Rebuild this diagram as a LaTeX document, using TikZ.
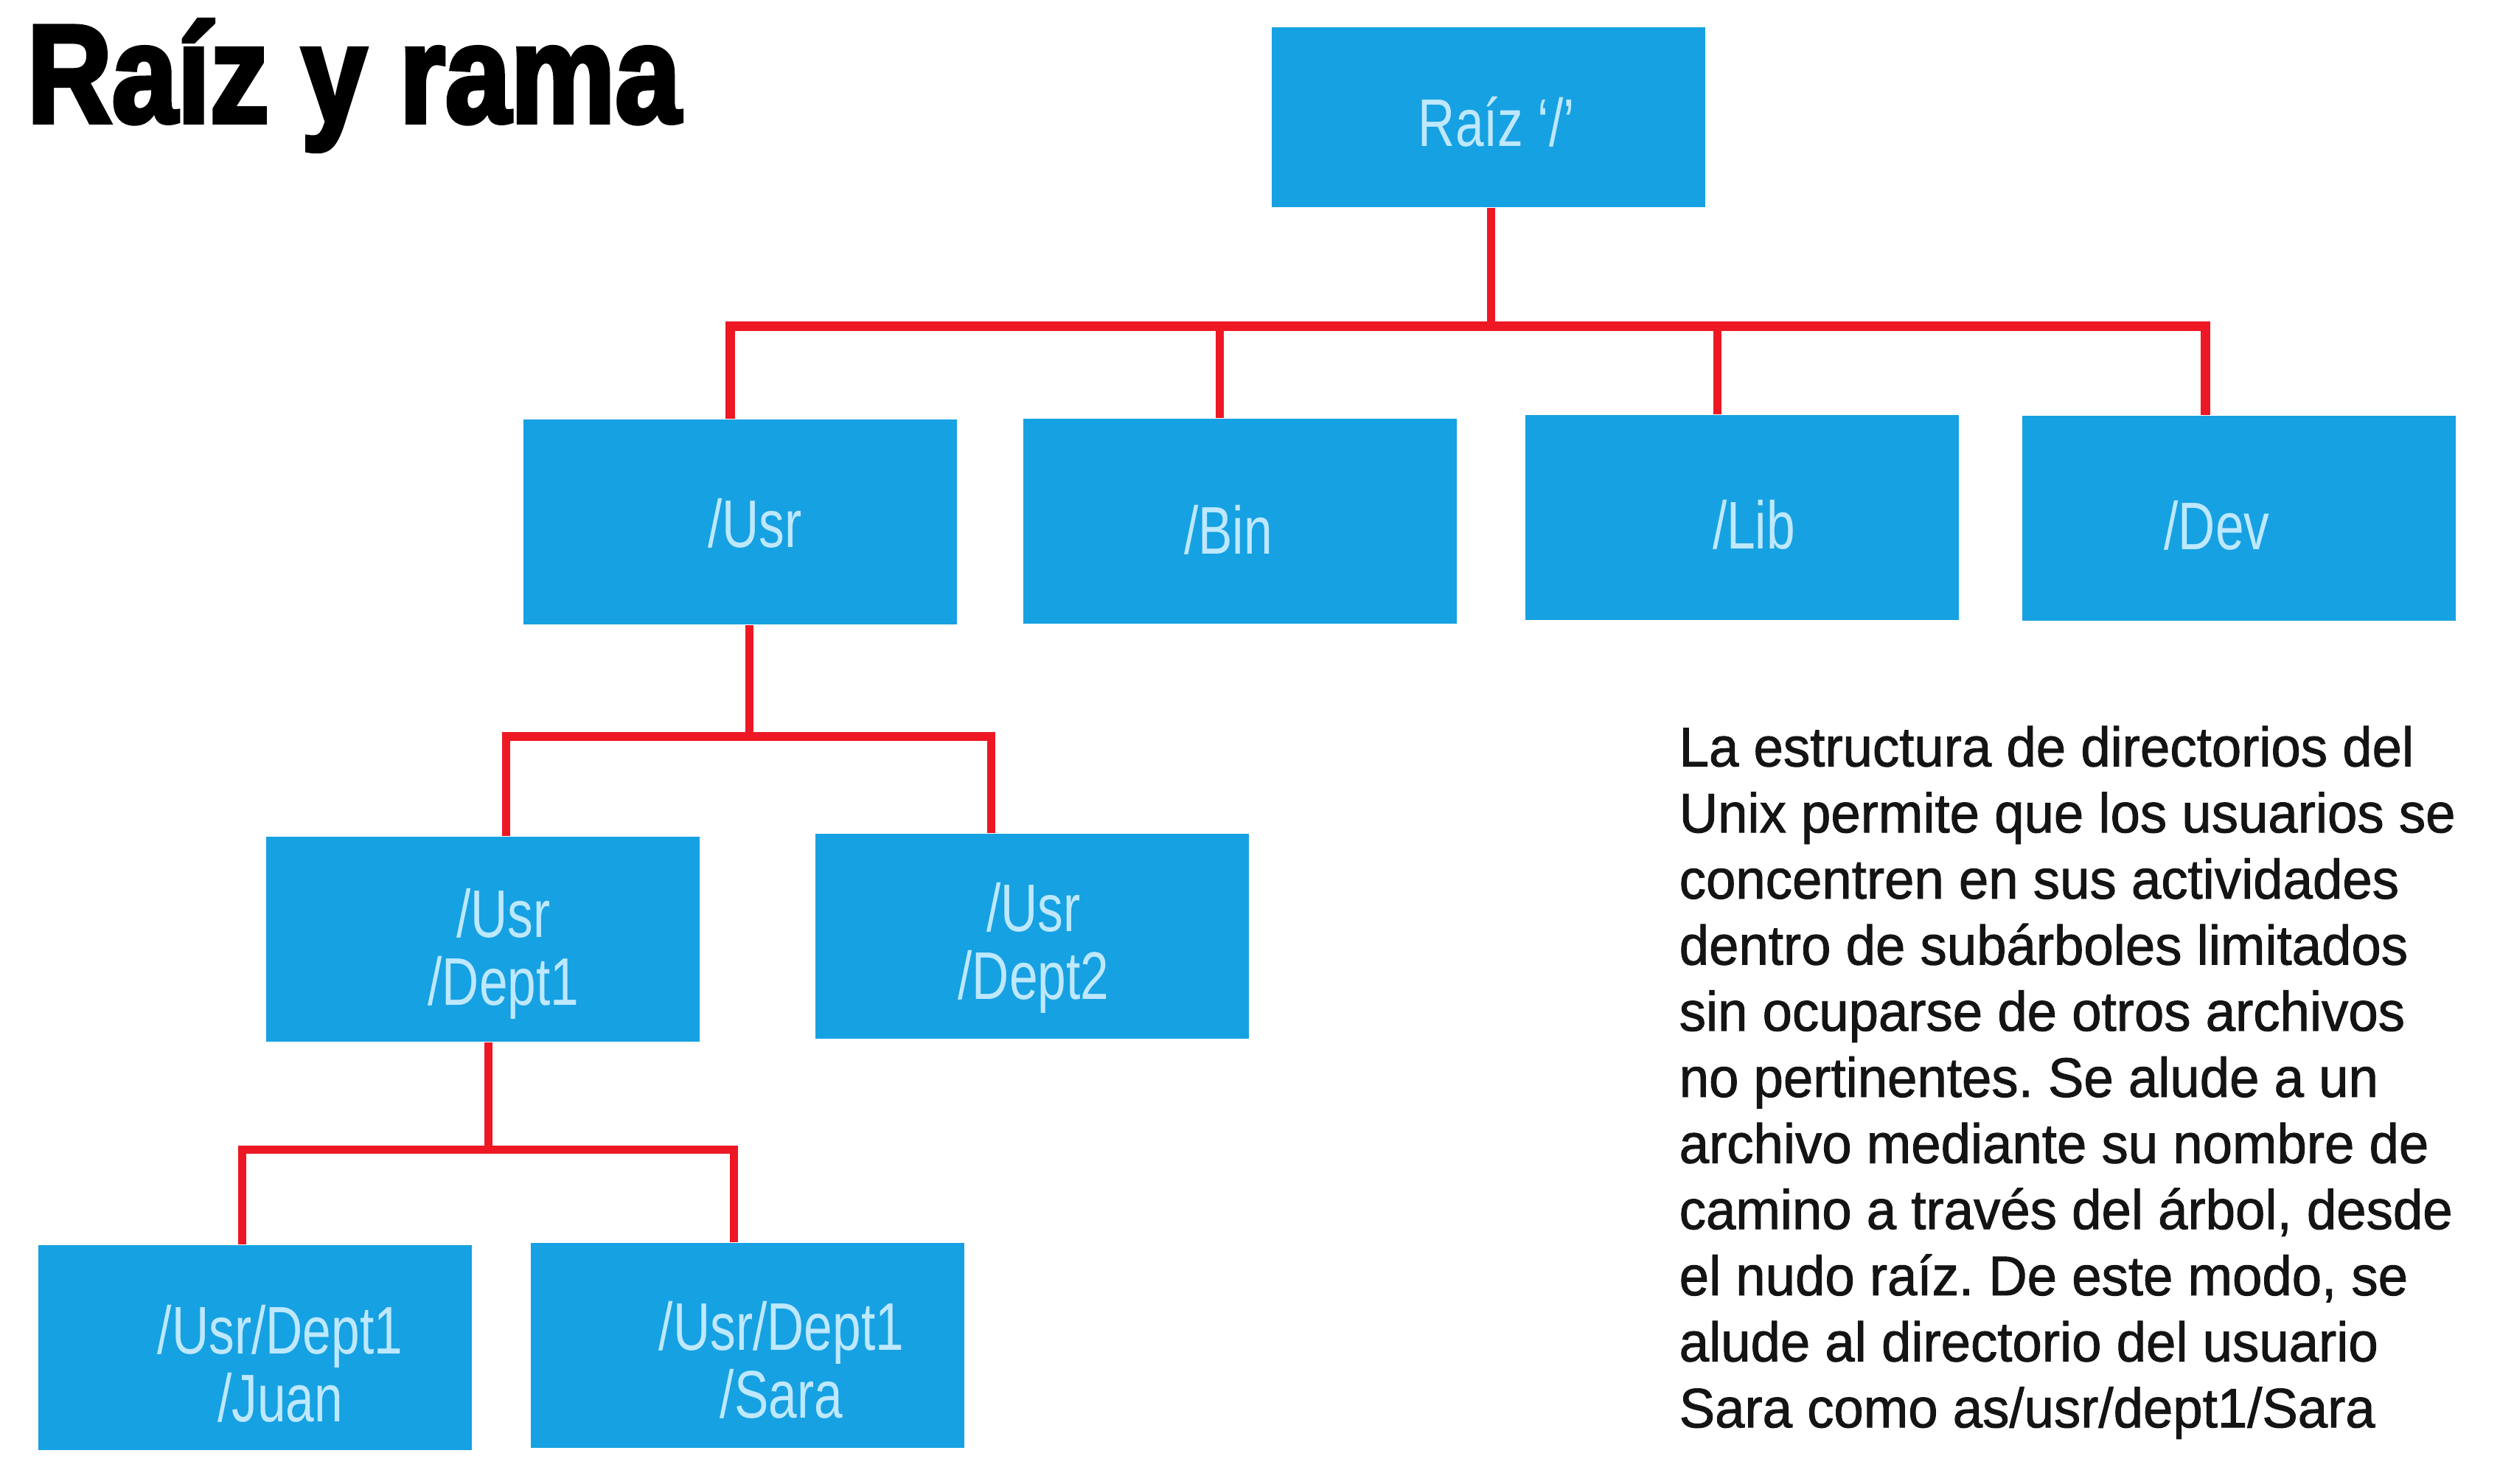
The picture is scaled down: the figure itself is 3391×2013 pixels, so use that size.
\documentclass[tikz,border=0pt]{standalone}
\usepackage{fontspec}
\setmainfont{Liberation Sans}
\newfontfamily\titlefont[FakeStretch=0.84,FakeBold=3]{Liberation Sans Bold}
\newfontfamily\boxfont[FakeStretch=0.76]{Liberation Sans}
\newfontfamily\bodyfont[FakeStretch=0.96,FakeBold=1.2]{Liberation Sans}
\definecolor{boxblue}{RGB}{22,161,226}
\definecolor{boxtext}{RGB}{190,232,255}
\definecolor{linkred}{RGB}{237,24,36}
\definecolor{ink}{RGB}{20,20,20}
\frenchspacing
\begin{document}
\begin{tikzpicture}[x=0.01cm,y=-0.01cm,
  dirbox/.style={fill=boxblue, minimum width=5.87cm, minimum height=2.78cm, inner sep=0pt},
  boxlabel/.style={inner sep=0pt, text=boxtext, font=\boxfont\fontsize{26}{26}\selectfont, align=center},
  link/.style={draw=linkred, line width=0.11cm, line join=miter},
  toplink/.style={link, line width=0.13cm}]
\useasboundingbox (0,0) rectangle (3391,2013);
\fill[white] (0,0) rectangle (3391,2013);

\node[anchor=base west, inner sep=0pt, text=black, font=\titlefont\fontsize{54}{60}\selectfont] (title) at (36,166) {Raíz y rama};

\node[dirbox, minimum height=2.44cm] (root) at (2019,159) {};
\node[dirbox] (usr) at (1004,708) {};
\node[dirbox] (bin) at (1682,707) {};
\node[dirbox] (lib) at (2363,702) {};
\node[dirbox] (dev) at (3037,703) {};
\node[dirbox] (d1) at (655,1274) {};
\node[dirbox] (d2) at (1400,1270) {};
\node[dirbox] (juan) at (346,1828) {};
\node[dirbox] (sara) at (1014,1825) {};

\node[boxlabel] (roott) at ([xshift=0.11cm,yshift=-0.06cm]root.center) {Raíz ‘/’};
\node[boxlabel] (usrt) at ([xshift=0.2cm,yshift=-0.02cm]usr.center) {/Usr};
\node[boxlabel] (bint) at ([xshift=-0.16cm,yshift=-0.12cm]bin.center) {/Bin};
\node[boxlabel] (libt) at ([xshift=0.16cm,yshift=-0.1cm]lib.center) {/Lib};
\node[boxlabel] (devt) at ([xshift=-0.3cm,yshift=-0.1cm]dev.center) {/Dev};
\node[boxlabel] (d1t) at ([xshift=0.28cm,yshift=-0.2cm]d1.center) {/Usr\\/Dept1};
\node[boxlabel] (d2t) at ([xshift=0.02cm,yshift=-0.16cm]d2.center) {/Usr\\/Dept2};
\node[boxlabel] (juant) at ([xshift=0.34cm,yshift=-0.22cm]juan.center) {/Usr/Dept1\\/Juan};
\node[boxlabel] (sarat) at ([xshift=0.46cm,yshift=-0.2cm]sara.center) {/Usr/Dept1\\/Sara};

\coordinate (b1) at (2022,443);
\coordinate (b2) at (1016,999);
\coordinate (b3) at (662,1559);

\draw[link] (root.south -| b1) -- (b1);
\draw[toplink] ([xshift=-0.14cm]usr.north) |- (b1) -| ([xshift=-0.46cm]dev.north);
\draw[link] ([xshift=-0.28cm]bin.north) -- ([xshift=-0.28cm]bin.north |- b1);
\draw[link] ([xshift=-0.34cm]lib.north) -- ([xshift=-0.34cm]lib.north |- b1);

\draw[link] (usr.south -| b2) -- (b2);
\draw[link] ([xshift=0.31cm]d1.north) |- (b2) -| ([xshift=-0.55cm]d2.north);

\draw[link] (d1.south -| b3) -- (b3);
\draw[link] ([xshift=-0.17cm]juan.north) |- (b3) -| ([xshift=-0.19cm]sara.north);

\node[anchor=north west, inner sep=0pt, align=left, text=ink,
  font=\bodyfont\fontsize{21.5}{25.5}\selectfont] (caption) at (2277,984)
 {La estructura de directorios del\\
  Unix permite que los usuarios se\\
  concentren en sus actividades\\
  dentro de subárboles limitados\\
  sin ocuparse de otros archivos\\
  no pertinentes. Se alude a un\\
  archivo mediante su nombre de\\
  camino a través del árbol, desde\\
  el nudo raíz. De este modo, se\\
  alude al directorio del usuario\\
  Sara como as/usr/dept1/Sara};
\end{tikzpicture}
\end{document}
